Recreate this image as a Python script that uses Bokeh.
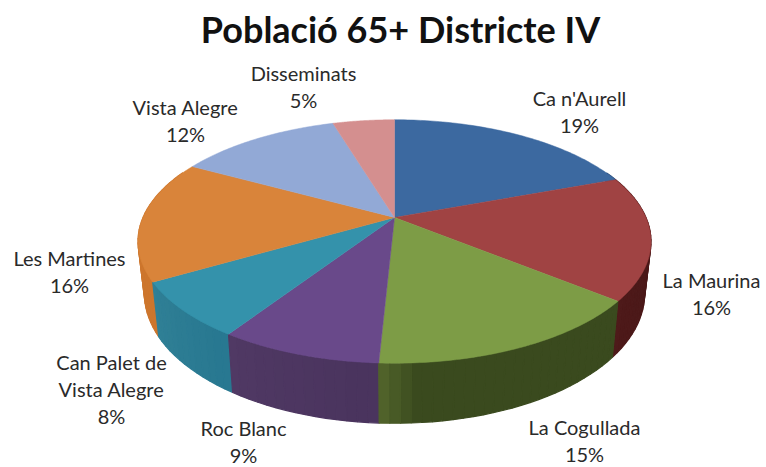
import numpy as np
from bokeh.plotting import figure
from bokeh.models import Range1d
from bokeh.core.properties import value
from bokeh.embed import file_html
from bokeh.resources import INLINE

title = "Població 65+ Districte IV"
districts = ["Ca n'Aurell", "La Maurina", "La Cogullada", "Roc Blanc",
             "Can Palet de\nVista Alegre", "Les Martines", "Vista Alegre", "Disseminats"]
shares = [19.4, 16.4, 15.0, 8.5, 7.4, 16.2, 12.4, 4.7]
share_labels = ["19%", "16%", "15%", "9%", "8%", "16%", "12%", "5%"]

top_colors = ["#3c69a0", "#a04343", "#7d9c46", "#69498a", "#3492ab", "#d9843a", "#92a9d6", "#d48f8f"]
side_start = [(40, 70, 110), (70, 22, 22), (58, 74, 30), (74, 52, 94), (40, 120, 145), (205, 118, 45), (100, 120, 160), (150, 100, 100)]
side_end = [(40, 70, 110), (78, 26, 26), (80, 98, 42), (80, 57, 100), (48, 128, 150), (205, 118, 45), (100, 120, 160), (150, 100, 100)]

label_x = [579, 711, 584, 243, 111, 69, 185, 303]
label_y = [97, 279, 426, 427, 361, 257, 106, 72]
LINE = 27

CX, CY, A, B, K = 394, 217, 251.5, 117, 0.197
SX, SY, BOT_CY = 0.975, 1.065, 267.6


def project(theta):
    u, v = np.sin(theta), np.cos(theta)
    w = 1 + K * v
    return CX + A * u / w, CY - B * v / w


def bottom(x, y):
    return CX + SX * (x - CX), BOT_CY + SY * (y - CY)


p = figure(width=766, height=467, output_backend="svg", toolbar_location=None,
           x_range=Range1d(0, 766), y_range=Range1d(467, 0), min_border=0)
p.axis.visible = False
p.grid.visible = False
p.outline_line_color = None
p.background_fill_color = "white"

edges = np.radians(np.concatenate([[0], np.cumsum(shares)]) / sum(shares) * 360)

# extruded rim: strips, back to front
strips = []
for i in range(len(shares)):
    t = np.linspace(edges[i], edges[i + 1], max(2, int(np.degrees(edges[i + 1] - edges[i]) / 2) + 1))
    for j in range(len(t) - 1):
        mid = (t[j] + t[j + 1]) / 2
        if np.cos(mid) > 0.4:
            continue
        f = j / max(1, len(t) - 2)
        if i == 2:
            # the green rim is darkest to the right and lightens only near the front
            f = max(0.0, (f - 0.88) / 0.12)
        rgb = [int(side_start[i][c] + f * (side_end[i][c] - side_start[i][c])) for c in range(3)]
        x0, y0 = project(t[j:j + 2])
        x1, y1 = bottom(x0, y0)
        strips.append((np.cos(mid), list(x0) + list(x1[::-1]), list(y0) + list(y1[::-1]),
                       "#%02x%02x%02x" % tuple(rgb)))
strips.sort(key=lambda s: -s[0])
p.patches([s[1] for s in strips], [s[2] for s in strips], fill_color=[s[3] for s in strips],
          line_color=[s[3] for s in strips], line_width=1.2)

# top face
for i, col in enumerate(top_colors):
    t = np.linspace(edges[i], edges[i + 1], 80)
    x, y = project(t)
    p.patch([CX] + list(x), [CY] + list(y), fill_color=col, line_color=col, line_width=0.5)

# labels
xs, ys, txt = [], [], []
for name, lab, lx, ly in zip(districts, share_labels, label_x, label_y):
    lines = name.split("\n") + [lab]
    for k, line in enumerate(lines):
        xs.append(lx)
        ys.append(ly + k * LINE)
        txt.append(line)
p.text(xs, ys, text=txt, text_font=value("Lato"), text_font_size="20px", text_color="#2a2a2a",
       text_align="center", text_baseline="middle")
p.text([400], [28], text=[title], text_font=value("Lato"), text_font_size="36px",
       text_font_style="bold", text_color="#111111", text_align="center", text_baseline="middle")

open("out.html", "w").write(file_html(p, INLINE))
